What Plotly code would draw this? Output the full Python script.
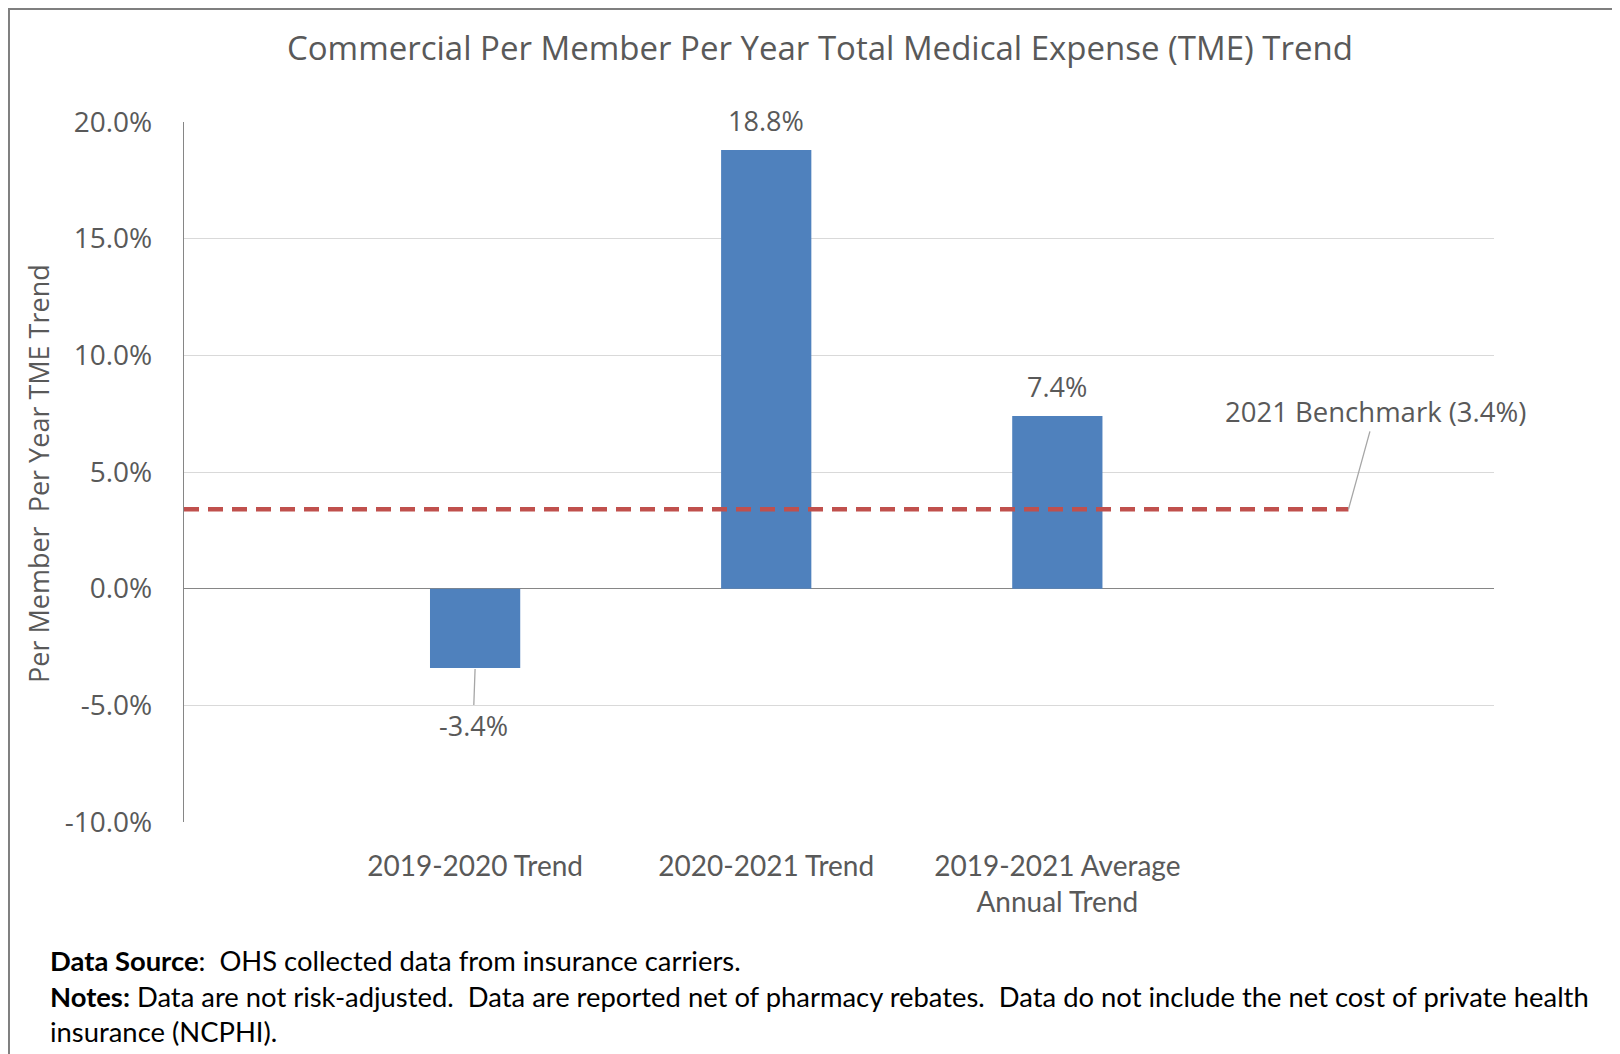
import plotly.graph_objects as go

categories = ["2019-2020 Trend", "2020-2021 Trend", "2019-2021 Average<br>Annual Trend"]
cat_pos = [1, 2, 3]
values = [-3.4, 18.8, 7.4]
labels = ["-3.4%", "18.8%", "7.4%"]
benchmark_value = 3.4
benchmark_label = "2021 Benchmark (3.4%)"
benchmark_span = [0, 4]
y_ticks = [-10, -5, 0, 5, 10, 15, 20]
y_tick_text = ["-10.0%", "-5.0%", "0.0%", "5.0%", "10.0%", "15.0%", "20.0%"]

TXT = "#595959"
WIDE = "Open Sans, Noto Sans, sans-serif"
NARROW = "Lato, sans-serif"

fig = go.Figure()
fig.add_trace(go.Bar(x=cat_pos, y=values, width=0.31, marker=dict(color="#4F81BD", line=dict(width=0)),
                     showlegend=False, hoverinfo="skip"))
fig.add_trace(go.Scatter(x=benchmark_span, y=[benchmark_value] * 2, mode="lines",
                         line=dict(color="#C0504D", width=4.5, dash="15px,9px"),
                         showlegend=False, hoverinfo="skip"))

annotations = []
for x, v, t in zip(cat_pos, values, labels):
    if v >= 0:
        annotations.append(dict(x=x, y=v, text=t, showarrow=False, yshift=30,
                                font=dict(family=WIDE, size=27, color=TXT)))
    else:
        annotations.append(dict(x=x, y=v, text=t, showarrow=True, arrowhead=0, arrowwidth=1.3,
                                arrowcolor="#A6A6A6", ax=-2, ay=57, standoff=1,
                                font=dict(family=WIDE, size=27, color=TXT)))
annotations.append(dict(x=benchmark_span[1], y=benchmark_value, text=benchmark_label, showarrow=True,
                        arrowhead=0, arrowwidth=1.3, arrowcolor="#A6A6A6", ax=27, ay=-98,
                        font=dict(family=WIDE, size=27.5, color=TXT)))

annotations.append(dict(xref="paper", yref="paper", x=-0.1107, y=0.4986, xanchor="center", yanchor="middle",
                        textangle=-90, showarrow=False, text="Per Member  Per Year TME Trend",
                        font=dict(family=WIDE, size=27, color=TXT)))

annotations.append(dict(xref="paper", yref="paper", x=-0.1035, xanchor="left", y=-0.172, yanchor="top",
                        align="left", showarrow=False,
                        text="<b>Data Source</b>:  OHS collected data from insurance carriers.<br>"
                             "<b>Notes:</b> Data are not risk-adjusted.  Data are reported net of pharmacy rebates.  "
                             "Data do not include the net cost of private health<br>insurance (NCPHI).",
                        font=dict(family=NARROW, size=27.4, color="#000000")))

fig.update_layout(
    width=1612, height=1046,
    margin=dict(l=176, r=126, t=114, b=232),
    paper_bgcolor="white", plot_bgcolor="white",
    title=dict(text="Commercial Per Member Per Year Total Medical Expense (TME) Trend",
               x=0.5037, xanchor="center", y=0.9613, yanchor="middle",
               font=dict(family=WIDE, size=33, color=TXT)),
    annotations=annotations,
    shapes=[dict(type="rect", xref="paper", yref="paper", x0=-0.1336, x1=1.3, y0=-0.5, y1=1.1614,
                 line=dict(color="#7F7F7F", width=2), layer="below")],
    xaxis=dict(range=[0, 4.5], tickmode="array", tickvals=cat_pos, ticktext=categories,
               showgrid=False, zeroline=False, showline=False, ticks="", ticklabelstandoff=25,
               tickfont=dict(family=NARROW, size=28, color=TXT)),
    yaxis=dict(range=[-10, 20], tickmode="array", tickvals=y_ticks, ticktext=y_tick_text,
               showgrid=True, gridcolor="#D9D9D9", gridwidth=1.3,
               zeroline=True, zerolinecolor="#868686", zerolinewidth=1.3,
               showline=True, linecolor="#868686", linewidth=1.3, ticks="", ticklen=0,
               ticklabelstandoff=25,
               tickfont=dict(family=WIDE, size=28, color=TXT)),
)

fig.write_html("out.html")
